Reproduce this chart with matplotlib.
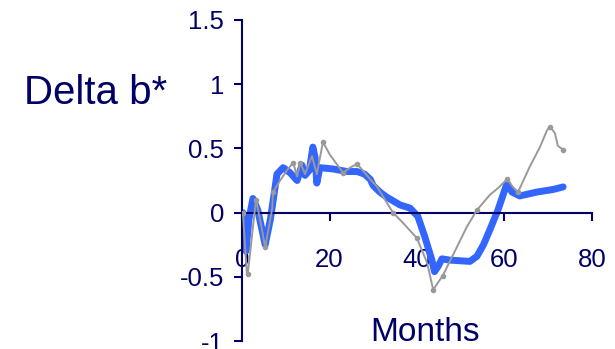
import numpy as np
import matplotlib
matplotlib.use('Agg')
import matplotlib.pyplot as plt

plt.rcParams['font.family'] = ['Liberation Sans', 'DejaVu Sans']

# blue series (smoothed) - months, delta b*
blue_months = [0.2, 0.9, 1.6, 2.5, 3.6, 5.3, 6.5, 8.0, 9.4, 11.0, 12.6, 13.7, 14.4,
               15.4, 16.2, 16.7, 17.1, 17.8, 20.8, 24.0, 26.3, 28.0, 29.3, 30.0,
               31.5, 33.1, 36.1, 38.4, 40.2, 41.8, 43.4, 44.0, 44.8, 45.7, 47.5,
               52.1, 53.7, 55.2, 56.7, 58.5, 60.6, 61.7, 63.5, 67.4, 71.1, 73.4]
blue_vals = [0.0, -0.3, -0.05, 0.11, 0.02, -0.25, -0.05, 0.3, 0.35, 0.31, 0.25, 0.37,
             0.29, 0.33, 0.51, 0.43, 0.23, 0.35, 0.34, 0.32, 0.32, 0.3, 0.26, 0.21,
             0.16, 0.12, 0.06, 0.035, -0.03, -0.19, -0.37, -0.46, -0.42, -0.36, -0.37,
             -0.38, -0.34, -0.25, -0.13, 0.02, 0.23, 0.16, 0.13, 0.16, 0.18, 0.2]

# grey series
grey_months = [0.2, 1.1, 1.3, 3.2, 4.1, 5.3, 6.9, 7.1, 8.7, 10.3, 11.7, 12.6, 13.3,
               14.4, 16.0, 17.1, 18.5, 20.1, 23.1, 24.7, 26.3, 29.3, 30.9, 32.7,
               34.5, 36.8, 40.0, 42.3, 43.7, 45.9, 49.1, 51.4, 53.7, 56.7, 58.5,
               60.6, 61.9, 63.1, 65.8, 68.1, 69.7, 70.4, 71.5, 72.2, 73.4]
grey_vals = [0.0, -0.47, -0.48, 0.1, -0.05, -0.27, 0.03, 0.16, 0.25, 0.33, 0.39, 0.28, 0.39,
             0.3, 0.44, 0.3, 0.55, 0.45, 0.31, 0.35, 0.38, 0.26, 0.2, 0.1,
             0.0, -0.08, -0.2, -0.39, -0.6, -0.49, -0.27, -0.11, 0.02, 0.14, 0.19,
             0.26, 0.2, 0.16, 0.36, 0.51, 0.64, 0.67, 0.62, 0.52, 0.49]
grey_marks = [0, 2, 3, 5, 7, 10, 12, 16, 18, 20, 24, 26, 28, 29, 32, 35, 37, 41, 44]

xticks = [0, 20, 40, 60, 80]
yticks = [-1, -0.5, 0, 0.5, 1, 1.5]
ytick_labels = ['-1', '-0.5', '0', '0.5', '1', '1.5']

navy = '#000066'

fig = plt.figure(figsize=(6.15, 3.49), dpi=100)
ax = fig.add_axes([0.3935, 0.0229, 0.5691, 0.9198])

ax.plot(grey_months, grey_vals, color='#999999', lw=1.4, marker='o', ms=3,
        markevery=grey_marks, zorder=3)
ax.plot(blue_months, blue_vals, color='#3366FF', lw=5, solid_capstyle='round',
        solid_joinstyle='round', zorder=2)

ax.set_xlim(0, 80)
ax.set_ylim(-1, 1.5)
ax.spines['top'].set_visible(False)
ax.spines['right'].set_visible(False)
ax.spines['bottom'].set_position(('data', 0))
for s in ('left', 'bottom'):
    ax.spines[s].set_color(navy)
    ax.spines[s].set_linewidth(1.5)

ax.set_xticks(xticks)
ax.set_yticks(yticks)
ax.set_yticklabels(ytick_labels)
ax.tick_params(axis='y', direction='out', length=6, width=1.5, color=navy,
               labelcolor=navy, labelsize=18.5, pad=7)
ax.tick_params(axis='x', direction='out', length=5.5, width=1.5, color=navy,
               labelcolor=navy, labelsize=18.5, pad=20)

fig.text(24 / 615, 1 - 104 / 349, 'Delta b*', fontsize=29, color=navy,
         ha='left', va='baseline')
fig.text(425.5 / 615, 1 - 341 / 349, 'Months', fontsize=24, color=navy,
         ha='center', va='baseline')

fig.savefig('out.png', dpi=100)
